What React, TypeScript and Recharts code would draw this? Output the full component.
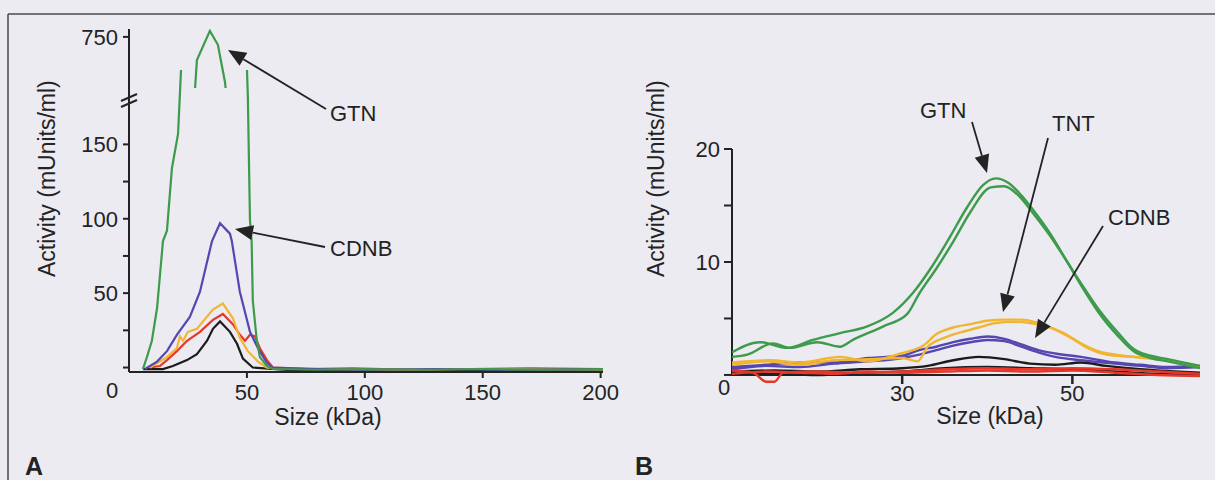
import React from 'react';
import { LineChart, Line, XAxis, YAxis, ReferenceLine } from 'recharts';

// ---- Panel A: fractions 0-200 kDa, broken activity axis ----
const gtnA_size = [5.9, 7.6, 9.7, 11.9, 14.4, 16.1, 18.2, 20.8, 22.5, 28.8, 34.3, 37.7, 40.7, 50.4, 51.3, 52.0, 52.5, 54.2, 55.5, 58.5, 61, 80, 100, 125, 150, 175, 201];
const gtnA_val = [-1, 7, 18, 40, 85, 92, 134, 157, 215, 700, 763, 733, 653, 182, 99, 85, 45, 18, 7, 1, -1, -1.5, -1, -1.5, -1, -1.5, -1];

const cdnbA_size = [6.8, 11.9, 16.1, 20.3, 25.8, 30.1, 35.2, 38.6, 42.8, 43.6, 47, 51.3, 54.7, 58.5, 61, 80, 100, 130, 160, 201];
const cdnbA_val = [-1, 4, 11, 22, 34, 51, 85, 97, 90, 85, 51, 24, 13, 3, 0, -1, -1.5, -1, -1.5, -1];

const tntA_size = [8.9, 11.9, 16.1, 20.3, 21.6, 22.9, 25, 28.8, 31.4, 35.6, 39.8, 44.1, 47, 50.4, 54.7, 58.5, 80, 110, 140, 170, 201];
const tntA_val = [0, 3, 7, 13, 21, 18, 24, 26, 31, 39, 43, 33, 20, 11, 4, 0, -1, -1.5, -1, -1, -1.5];

const redA_size = [8.9, 13.1, 16.1, 20.3, 24.6, 30.1, 35.6, 39.8, 44.1, 47, 49.2, 51.3, 53.4, 55.5, 58.5, 61, 75, 95, 120, 145, 170, 201];
const redA_val = [0, 1, 5, 11, 18, 24, 32, 36, 29, 22, 18, 22, 21, 13, 5, 0, -1, -0.5, -1.5, -1, -0.5, -1];

const blackA_size = [6, 14.4, 18.6, 24.6, 28.8, 33.1, 35.6, 38.6, 42.8, 45.8, 48.3, 52.5, 70, 100, 130, 160, 201];
const blackA_val = [-1, -1, 1, 5, 9, 18, 26, 31, 24, 16, 6, 0, -2, -1.5, -2, -1.5, -2];

const xTicksA = [50, 100, 150, 200];
const yTicksA = [0, 25, 50, 75, 100, 125, 150];
const yLabelsA = [50, 100, 150];
const yTicksAUpper = [750];

// ---- Panel B: zoom 10-65 kDa, two replicate traces per substrate ----
const gtnB1_size = [10, 13.3, 16.5, 19.5, 22.7, 25.9, 28.9, 31.3, 33.5, 35.6, 37.6, 39.5, 41, 42.5, 44, 45.4, 47.4, 49.4, 51.3, 53.3, 55.3, 57.2, 59.2, 61.2, 65];
const gtnB1_val = [2.0, 2.9, 2.4, 3.1, 3.7, 4.3, 5.5, 7.3, 9.6, 12.2, 14.8, 16.8, 17.4, 17.0, 15.9, 14.6, 12.5, 10.0, 7.6, 5.3, 3.5, 2.1, 1.5, 1.2, 0.6];
const gtnB2_size = [10, 11.8, 14.8, 16.8, 20, 22.7, 24.2, 27.8, 30.6, 32, 34, 36, 38, 40.4, 42, 43.5, 45.4, 47.4, 49.4, 51.3, 53.3, 55.3, 57.2, 59.2, 61.2, 65];
const gtnB2_val = [1.6, 1.8, 2.8, 2.4, 2.9, 2.5, 3.1, 4.3, 5.4, 7.2, 9.4, 11.8, 14.4, 16.6, 16.7, 16.0, 14.3, 12.3, 10.0, 7.8, 5.6, 3.8, 2.3, 1.7, 1.4, 0.8];

const tntB1_size = [10, 14.5, 18, 22.7, 25.9, 29.8, 32.5, 34, 36, 38, 40, 42, 44, 46, 48, 50, 52, 54, 57, 61, 65];
const tntB1_val = [1.1, 1.3, 1.1, 1.6, 1.2, 1.9, 2.6, 3.6, 4.2, 4.5, 4.8, 4.9, 4.9, 4.6, 4.0, 3.2, 2.3, 1.8, 1.6, 1.3, 0.8];
const tntB2_size = [10, 14, 18, 22, 26, 30, 31.8, 33, 35, 37, 39, 41, 43, 45, 47, 49, 51, 53, 56, 60, 65];
const tntB2_val = [0.9, 1.2, 0.9, 1.3, 1.4, 1.5, 1.2, 2.5, 3.3, 3.8, 4.2, 4.6, 4.7, 4.6, 4.3, 3.7, 2.8, 2.1, 1.7, 1.4, 0.7];

const cdnbB_size = [10, 14, 18, 22, 26, 30, 32, 34, 36, 38, 40, 42, 44, 46, 48, 51, 55, 58, 61, 65];
const cdnbB1_val = [0.7, 0.9, 1.1, 1.1, 1.5, 1.7, 2.2, 2.5, 2.9, 3.2, 3.4, 3.2, 2.7, 2.2, 1.9, 1.6, 1.1, 0.9, 0.7, 0.8];
const cdnbB2_val = [0.5, 0.8, 0.7, 1.0, 1.2, 1.5, 1.8, 2.2, 2.6, 2.9, 3.1, 3.0, 2.5, 2.0, 1.6, 1.3, 1.0, 0.8, 0.6, 0.7];

const blackB1_size = [10, 15, 20, 25, 30, 33, 36, 39, 42, 45, 48, 51, 54, 58, 62, 65];
const blackB1_val = [0.3, 0.4, 0.3, 0.5, 0.6, 0.8, 1.3, 1.6, 1.4, 1.0, 0.9, 1.1, 0.8, 0.5, 0.3, 0.2];
const blackB2_size = [10, 15, 20, 25, 30, 35, 40, 45, 50, 55, 60, 65];
const blackB2_val = [0.2, 0.1, 0.0, 0.2, 0.3, 0.6, 0.7, 0.6, 0.5, 0.3, 0.1, 0.0];

const redB1_size = [10, 12.5, 14, 15, 16, 20, 25, 30, 35, 40, 45, 50, 55, 60, 65];
const redB1_val = [0.4, 0.2, -0.6, -0.6, 0.2, 0.3, 0.2, 0.3, 0.5, 0.6, 0.5, 0.6, 0.5, 0.3, 0.1];
const redB2_size = [10, 14, 18, 22, 26, 30, 35, 40, 45, 50, 55, 60, 65];
const redB2_val = [0.1, 0.3, 0.2, 0.1, 0.3, 0.2, 0.3, 0.4, 0.3, 0.4, 0.2, 0.0, -0.1];

const xTicksB = [30, 50];
const yTicksB = [0, 5, 10, 15, 20];
const yLabelsB = [10, 20];

const pts = (s: number[], v: number[]) => s.map((x, i) => ({ size: x, v: v[i] }));

const FONT = '"Liberation Sans", Arial, Helvetica, sans-serif';
const INK = '#232323';
const BG = '#ebebf1';
const C = { green: '#3d9b4b', purple: '#5546b0', yellow: '#f1b531', red: '#e5372a', black: '#1c1c1c' };

const tickStyle = { fill: INK, fontSize: 22, fontFamily: FONT };
const axisStroke = { stroke: INK, strokeWidth: 2 };

function Arrow({ x1, y1, x2, y2 }: { x1: number; y1: number; x2: number; y2: number }) {
  const L = Math.hypot(x2 - x1, y2 - y1);
  const ux = (x2 - x1) / L;
  const uy = (y2 - y1) / L;
  const bx = x2 - ux * 18;
  const by = y2 - uy * 18;
  const px = -uy * 7.5;
  const py = ux * 7.5;
  return (
    <g>
      <line x1={x1} y1={y1} x2={bx} y2={by} stroke={INK} strokeWidth={1.8} />
      <polygon points={`${x2},${y2} ${bx + px},${by + py} ${bx - px},${by - py}`} fill={INK} />
    </g>
  );
}

function lineA(data: { size: number; v: number }[], color: string, key: string) {
  return (
    <Line key={key} data={data} dataKey="v" type="linear" stroke={color} strokeWidth={2.2}
      dot={false} activeDot={false} isAnimationActive={false} />
  );
}

function lineB(data: { size: number; v: number }[], color: string, key: string) {
  return (
    <Line key={key} data={data} dataKey="v" type="monotone" stroke={color} strokeWidth={2.4}
      dot={false} activeDot={false} isAnimationActive={false} />
  );
}

export default function App() {
  const gtnA = pts(gtnA_size, gtnA_val);
  const txt = { fontFamily: FONT, fill: INK };

  return (
    <div style={{ position: 'absolute', left: 0, top: 0, width: 1215, height: 480, background: BG, overflow: 'hidden' }}>
      {/* Panel A, lower segment */}
      <div style={{ position: 'absolute', left: 0, top: 0 }}>
        <LineChart width={640} height={480} margin={{ top: 70, right: 37, bottom: 0, left: 0 }}>
          <XAxis type="number" dataKey="size" domain={[0, 201]} ticks={xTicksA} interval={0} allowDataOverflow
            height={108} axisLine={axisStroke} tickLine={axisStroke} tickSize={6} tickMargin={6} tick={tickStyle} />
          <YAxis type="number" domain={[-3, 200]} ticks={yTicksA} interval={0} allowDataOverflow width={129}
            axisLine={axisStroke} tickLine={axisStroke} tickSize={6} tickMargin={5} tick={tickStyle}
            tickFormatter={(v: number) => (yLabelsA.includes(v) ? String(v) : '')} />
          {lineA(pts(blackA_size, blackA_val), C.black, 'blackA')}
          {lineA(pts(redA_size, redA_val), C.red, 'redA')}
          {lineA(pts(tntA_size, tntA_val), C.yellow, 'tntA')}
          {lineA(pts(cdnbA_size, cdnbA_val), C.purple, 'cdnbA')}
          {lineA(gtnA, C.green, 'gtnA')}
        </LineChart>
      </div>

      {/* Panel A, upper segment of the broken axis */}
      <div style={{ position: 'absolute', left: 0, top: 0 }}>
        <LineChart width={640} height={480} margin={{ top: 29, right: 37, bottom: 392, left: 0 }}>
          <XAxis type="number" dataKey="size" domain={[0, 201]} hide height={0} allowDataOverflow />
          <YAxis type="number" domain={[640, 767]} ticks={yTicksAUpper} allowDataOverflow width={129}
            axisLine={axisStroke} tickLine={axisStroke} tickSize={6} tickMargin={5} tick={tickStyle} />
          {lineA(gtnA, C.green, 'gtnAup')}
        </LineChart>
      </div>

      {/* Panel B */}
      <div style={{ position: 'absolute', left: 640, top: 0 }}>
        <LineChart width={575} height={480} margin={{ top: 149, right: 15, bottom: 0, left: 0 }}>
          <XAxis type="number" dataKey="size" domain={[10, 65]} ticks={xTicksB} interval={0} allowDataOverflow
            height={96} axisLine={false} tickLine={{ stroke: INK, strokeWidth: 2.5 }} tickSize={-8} tickMargin={9} tick={tickStyle} />
          <YAxis type="number" domain={[-0.8, 20]} ticks={yTicksB} interval={0} allowDataOverflow width={92}
            axisLine={false} tickLine={axisStroke} tickSize={8} tickMargin={4} tick={tickStyle}
            tickFormatter={(v: number) => (yLabelsB.includes(v) ? String(v) : '')} />
          <ReferenceLine y={0} stroke={INK} strokeWidth={2} />
          <ReferenceLine segment={[{ x: 10, y: 0 }, { x: 10, y: 20 }]} stroke={INK} strokeWidth={2} />
          {lineB(pts(blackB1_size, blackB1_val), C.black, 'blackB1')}
          {lineB(pts(blackB2_size, blackB2_val), C.black, 'blackB2')}
          {lineB(pts(cdnbB_size, cdnbB1_val), C.purple, 'cdnbB1')}
          {lineB(pts(cdnbB_size, cdnbB2_val), C.purple, 'cdnbB2')}
          {lineB(pts(tntB1_size, tntB1_val), C.yellow, 'tntB1')}
          {lineB(pts(tntB2_size, tntB2_val), C.yellow, 'tntB2')}
          {lineB(pts(gtnB1_size, gtnB1_val), C.green, 'gtnB1')}
          {lineB(pts(gtnB2_size, gtnB2_val), C.green, 'gtnB2')}
          {lineB(pts(redB1_size, redB1_val), C.red, 'redB1')}
          {lineB(pts(redB2_size, redB2_val), C.red, 'redB2')}
        </LineChart>
      </div>

      {/* frame, titles and annotations */}
      <svg width={1215} height={480} style={{ position: 'absolute', left: 0, top: 0, pointerEvents: 'none' }}>
        <line x1={8} y1={14} x2={1215} y2={14} stroke="#4a4a4a" strokeWidth={1.5} />
        <line x1={8} y1={14} x2={8} y2={480} stroke="#4a4a4a" strokeWidth={1.5} />

        {/* axis break marks */}
        <line x1={121} y1={101} x2={137} y2={94} stroke={INK} strokeWidth={2} />
        <line x1={121} y1={107} x2={137} y2={100} stroke={INK} strokeWidth={2} />

        <text x={112} y={398} textAnchor="middle" fontSize={22} {...txt}>0</text>
        <text x={724} y={395} textAnchor="middle" fontSize={22} {...txt}>0</text>

        <text transform="translate(55,277) rotate(-90)" fontSize={23} {...txt}>Activity (mUnits/ml)</text>
        <text transform="translate(664,277) rotate(-90)" fontSize={23} {...txt}>Activity (mUnits/ml)</text>
        <text x={328} y={425} textAnchor="middle" fontSize={23} {...txt}>Size (kDa)</text>
        <text x={990} y={424} textAnchor="middle" fontSize={23} {...txt}>Size (kDa)</text>

        <text x={330} y={121} fontSize={22} {...txt}>GTN</text>
        <Arrow x1={326} y1={109} x2={228} y2={50} />
        <text x={330} y={256} fontSize={22} {...txt}>CDNB</text>
        <Arrow x1={325} y1={247} x2={235} y2={229} />

        <text x={920} y={118} fontSize={22} {...txt}>GTN</text>
        <Arrow x1={972} y1={122} x2={987} y2={173} />
        <text x={1052} y={131} fontSize={22} {...txt}>TNT</text>
        <Arrow x1={1048} y1={138} x2={1003} y2={312} />
        <text x={1108} y={225} fontSize={22} {...txt}>CDNB</text>
        <Arrow x1={1103} y1={226} x2={1035} y2={338} />

        <text x={25} y={475} fontSize={25} fontWeight="bold" {...txt}>A</text>
        <text x={635} y={475} fontSize={25} fontWeight="bold" {...txt}>B</text>
      </svg>
    </div>
  );
}
